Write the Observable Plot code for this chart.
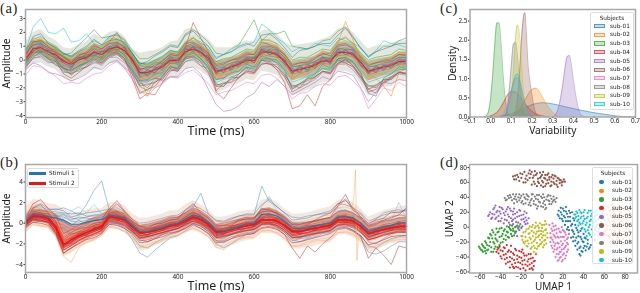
<!DOCTYPE html>
<html><head><meta charset="utf-8">
<script src="https://cdn.jsdelivr.net/npm/d3@7"></script>
<script src="https://cdn.jsdelivr.net/npm/@observablehq/plot@0.6"></script>
<style>
html,body{margin:0;padding:0;background:#fff}
#page{position:relative;width:640px;height:293px;overflow:hidden;font-family:"DejaVu Sans",sans-serif;color:#222}
#page svg{position:absolute;background:transparent;overflow:visible;filter:blur(.35px)}
.tag{position:absolute;font-family:"Liberation Serif",serif;font-size:14.5px;letter-spacing:.6px;line-height:16px;color:#222}
.legend{position:absolute;background:rgba(255,255,255,.82);border:1px solid #ddd;border-radius:2px;box-sizing:border-box;filter:blur(.25px)}
.legend .t{position:absolute;font-size:5.8px;line-height:7px;white-space:nowrap;color:#222}
.legend .s{position:absolute}
</style></head><body><div id="page"></div>
<script>
const timeMs = d3.range(0, 1001, 20);
const meanA = [0,.8,.9,.6,.35,-.1,-.3,0,.2,.55,.4,.8,.95,.7,0,-.9,-.9,-.7,-.5,0,-.05,.6,.8,.55,.1,-.8,-.7,-.5,-.3,0,-.05,.6,.55,.4,-.1,-.8,-.65,-.55,-.35,-.05,-.1,.55,.55,.4,-.2,-.8,-.65,-.5,-.4,-.1,-.1];
const bandHighA = [1.3,2.0,2.2,1.7,1.4,.9,.8,1.1,1.3,1.9,1.6,2.0,2.1,1.7,.8,.5,.6,.7,.9,1.3,1.4,2.2,2.3,1.9,1.5,.9,.9,.9,1.2,1.4,1.3,2.1,2.2,1.9,1.3,1.0,1.1,1.2,1.3,1.5,1.7,2.2,2.4,2.0,1.4,.8,1.0,1.1,1.2,1.4,1.4];
const bandLowA = [-.9,-.3,-.2,-.5,-.7,-1.3,-1.6,-1.3,-1,-.7,-.7,-.3,-.2,-.6,-1.4,-2.5,-2.4,-2.1,-1.8,-1.3,-1.3,-.7,-.5,-.8,-1.2,-2.4,-2.2,-1.9,-1.7,-1.4,-1.5,-.8,-.9,-1.1,-1.7,-2.6,-2.4,-2.2,-2.0,-1.6,-1.6,-.8,-.8,-1,-1.7,-2.6,-2.4,-2.0,-1.9,-1.5,-1.5];
const coreHighA = [.6,1.4,1.5,1.2,.95,.5,.3,.6,.8,1.15,1.0,1.4,1.55,1.3,.6,-.2,-.2,0,.2,.65,.6,1.25,1.45,1.2,.75,-.1,0,.15,.35,.65,.6,1.3,1.25,1.05,.6,-.1,.05,.1,.3,.6,.55,1.25,1.3,1.1,.5,-.1,.05,.15,.25,.55,.55];
const coreLowA = [-.6,.2,.3,0,-.25,-.7,-.9,-.6,-.4,-.05,-.2,.2,.35,.1,-.7,-1.6,-1.6,-1.4,-1.2,-.65,-.7,-.05,.15,-.1,-.55,-1.5,-1.4,-1.15,-.95,-.65,-.7,-.1,-.15,-.25,-.8,-1.5,-1.35,-1.25,-1.05,-.7,-.75,-.15,-.2,-.3,-.9,-1.5,-1.35,-1.15,-1.05,-.75,-.75];
const tracesA = [
["#17becf",[.6,2.4,3.0,2.0,1.9,2.3,1.3,1.4,1.9,1.2,1.0,1.6,1.5,1.3,.4,-.2,-.4,-.1,.2,.7,.5,1.2,1.6,1.2,1.0,.2,.4,.6,.9,1.1,1.3,2.6,2.2,1.6,1.2,.6,.9,.8,1.2,1.1,1.0,1.6,1.4,1.2,.9,.2,.7,1.4,1.2,1.1,.9]],
["#9467bd",[-.7,-.2,-.4,-.9,-1.0,-1.2,-1.5,-1.3,-1.0,-.5,-.7,-.2,0,-.5,-1.0,-1.7,-1.6,-1.3,-1.5,-1.2,-1.2,-.6,-.5,-1.0,-2.1,-3.2,-3.7,-3.6,-3.3,-2.7,-2.4,-1.6,-1.9,-1.4,-1.9,-2.5,-2.2,-1.9,-1.6,-1.2,-1.4,-.8,-.9,-1.1,-2.0,-3.0,-2.3,-1.6,-1.7,-1.4,-1.5]],
["#d62728",[.2,.6,1.1,.4,.1,-.6,-.7,-.4,-.2,.2,0,.5,.6,.1,-1.3,-2.8,-2.4,-2.5,-1.6,-.8,-.6,.9,2.7,1.6,.6,-2.3,-2.8,-2.0,-1.2,-.9,-1.0,-.3,-.2,-.7,-1.6,-3.5,-3.3,-2.5,-3.3,-1.9,-1.4,-.3,.1,-.4,-1.1,-2.1,-2.4,-1.7,-1.3,-.9,-1.0]],
["#2ca02c",[.7,1.3,1.4,1.2,.9,.4,.5,1.1,1.6,2.2,1.6,1.7,1.9,1.5,.7,.1,.1,.4,.7,1.1,1.0,1.9,2.2,1.8,1.3,.5,.4,.8,1.1,2.0,2.9,1.4,1.9,1.9,2.1,1.0,.9,.8,1.0,1.4,1.5,2.1,2.4,1.7,.8,.3,.6,1.0,1.0,1.4,1.6]],
["#e377c2",[-1.1,-.4,-.5,-.8,-1.2,-1.7,-1.6,-1.7,-1.3,-1,-.9,-.4,-.1,-.6,-1.4,-2.2,-2.6,-2,-1.7,-1.2,-1.3,-.9,-.7,-1.2,-1.7,-2.5,-2.3,-2.2,-1.9,-1.6,-1.7,-1.1,-1,-1.3,-1.9,-2.8,-2.4,-2.3,-1.9,-1.7,-1.8,-1.2,-1.1,-1.5,-2.1,-3.5,-2.8,-2,-2.2,-1.6,-1.9]],
["#ff7f0e",[.3,1.2,1.5,.9,.7,.2,-.2,.1,.5,.8,.7,1.2,1.2,.8,.1,-1.2,-2.6,-1.5,-.8,-.2,.1,.9,1.1,.9,.4,-1.0,-1.3,-.6,-.3,.2,.2,.7,1.0,.9,.1,-1.3,-1.0,-.8,-.4,.2,.1,1.2,2.8,1.4,.1,-1.0,-1.3,-1.9,-2.6,-.9,-.6]],
["#1f77b4",[-.2,.7,.6,.5,.0,-.6,-.8,-.4,-.1,.4,.1,.6,.7,.4,-.6,-1.5,-1.4,-1.0,-.9,-.2,-.3,.2,.5,.1,-.5,-1.4,-1.3,-.9,-.8,-.3,-.5,.3,.1,0,-.7,-2.1,-1.7,-1.3,-1,-.3,-.6,.1,.2,-.1,-.9,-2.4,-2.6,-1.3,-1.0,-.5,-.5]],
["#8c564b",[.4,1.1,1.2,.9,.7,.2,0,.3,.6,1.1,.8,1.3,2.0,1.1,.5,-.4,-.5,-.2,-.1,.5,.4,1.2,1.3,1.0,.5,-.3,-.2,0,.2,.5,.4,1.3,1.1,.9,.4,-.3,-.2,-.1,.2,.4,.5,1.1,1.2,.9,.3,-.3,-.2,0,.1,.4,.3]],
["#bcbd22",[-.3,.5,.7,.2,.1,-.4,-.6,-.2,0,.2,.1,.5,.6,.3,-.4,-1.2,-1.3,-1.1,-.8,-.3,-.4,.3,.4,.2,-.3,-1.2,-1.1,-.8,-.7,-.2,-.4,.2,.3,.1,-.5,-1.2,-1.1,-1,-.7,-.4,-.5,.2,.2,0,-.6,-1.2,-1,-.9,-.8,-.5,-.4]],
["#7f7f7f",[.5,1.0,1.2,.9,.6,.2,-.1,.3,.5,.9,.7,1.0,1.3,1.0,.2,-.6,-.6,-.4,-.2,.3,.3,.9,1.1,.8,.4,-.5,-.4,-.2,0,.3,.2,.9,.9,.7,.2,-.5,-.4,-.2,-.1,.2,.2,.8,.9,.7,.1,-.5,-.4,-.3,-.1,.2,.2]],
["#1f77b4",[.2,.6,1.2,.4,.5,0,-.5,.2,0,.7,.2,1,.7,.9,-.2,-.7,-1.1,-.5,-.7,.2,-.2,.8,.6,.8,-.1,-.6,-.9,-.3,-.5,.2,-.2,.8,.4,.6,-.3,-.6,-.9,-.3,-.6,.2,-.3,.8,.4,.6,-.4,-.6,-.9,-.3,-.6,.1,-.3]],
["#2ca02c",[-.1,.9,.7,.8,.2,0,-.5,.1,.1,.7,.2,.9,.8,.9,-.2,-.8,-1.2,-.6,-.3,-.2,.1,.4,1,.3,.3,-1,-.5,-.7,-.1,-.2,.2,.4,.8,.2,.1,-1,-.4,-.8,-.2,-.2,.1,.4,.8,.2,0,-1,-.4,-.7,-.2,-.3,.1]],
["#ff7f0e",[-.4,.4,1.0,.3,.4,-.3,-.1,-.2,.4,.3,.6,.5,1.1,.5,.2,-1.1,-.7,-.9,-.3,-.2,.1,.4,1,.3,.3,-1.1,-.5,-.7,-.1,-.2,.1,.3,.8,.2,.1,-1,-.5,-.7,-.2,-.2,.1,.3,.8,.2,0,-1,-.5,-.7,-.2,-.3,0]],
["#d62728",[.1,.9,.8,.7,.2,0,-.4,.2,.1,.6,.4,.7,1.1,.6,.1,-1,-.8,-.9,-.4,0,-.2,.8,.7,.7,-.1,-.7,-.8,-.4,-.4,.1,-.2,.8,.4,.5,-.2,-.7,-.8,-.4,-.5,0,-.2,.7,.4,.5,-.4,-.7,-.8,-.4,-.5,-.1,-.3]],
["#9467bd",[.3,1.1,.9,.4,.5,-.4,-.2,.1,.4,.5,.6,1.0,.9,.8,-.1,-.6,-1.1,-.6,-.3,.2,.1,.5,1,.6,.4,-.6,-.9,-.3,-.1,.1,.2,.5,.7,.6,.1,-.6,-.9,-.4,-.1,.1,.1,.4,.7,.5,0,-.6,-.9,-.4,-.2,0,.1]],
["#17becf",[.1,.7,1.3,.7,.1,.1,-.5,-.1,.4,.4,.5,.9,1.2,.5,.2,-1.3,-.7,-.8,-.6,.3,-.4,.9,.7,.9,-.4,-.8,-.5,-.8,-.2,-.3,.3,.8,.4,.7,-.4,-.8,-.4,-.9,-.2,-.3,.2,.8,.4,.7,-.5,-.8,-.4,-.8,-.3,-.4,.2]],
["#2ca02c",[.8,1.5,1.7,1.3,1,.5,.2,.6,.9,1.4,1.1,1.4,1.5,1.2,.5,-.2,-.3,0,.3,.7,.6,1.3,1.6,1.3,.8,-.1,.1,.2,.5,.8,.7,1.5,1.4,1.2,.7,0,.2,.2,.5,.8,.7,1.4,1.6,1.2,.5,0,.2,.3,.4,.8,.7]],
["#8c564b",[-.5,.1,.3,-.1,-.3,-.8,-1,-.7,-.5,-.2,-.2,.2,.4,0,-.8,-1.8,-1.8,-1.6,-1.3,-.7,-.8,-.1,.1,-.2,-.8,-1.8,-1.7,-1.4,-1.2,-.8,-.9,-.2,-.3,-.5,-1,-1.9,-1.7,-1.5,-1.2,-.8,-.9,-.2,-.2,-.5,-1.2,-1.9,-1.8,-1.5,-1.3,-.9,-.9]],
["#ff7f0e",[.5,1.6,1.4,1.0,.8,.1,-.1,.5,.6,1.2,.8,1.5,1.7,1.2,.2,-1.2,-1.5,-.9,-.3,.4,.3,1.2,1.6,1.1,.5,-1.1,-1.0,-.3,.2,.6,.4,1.4,1.5,1.1,.3,-1.1,-.8,-.4,.2,.7,.5,1.4,1.7,1.2,.2,-1.2,-.8,-.3,.1,.6,.5]],
["#2ca02c",[-.3,.4,.8,.2,0,-.7,-1.0,-.5,-.2,.3,.1,.6,.8,.3,-.8,-1.9,-2.2,-1.6,-1.1,-.5,-.6,.3,.6,.1,-.6,-1.9,-1.9,-1.3,-1,-.5,-.7,.1,.1,-.2,-.9,-2.0,-1.7,-1.4,-1.1,-.6,-.8,.1,.2,-.2,-1,-2.1,-1.8,-1.4,-1.2,-.7,-.7]],
["#1f77b4",[.6,1.7,1.9,1.2,.8,.5,.3,.7,1.0,1.5,1.1,1.7,1.8,1.4,.5,-.3,-.1,.3,.6,1.0,.9,1.8,2.1,1.5,1.0,.1,.4,.6,1.0,1.2,1.0,1.8,1.9,1.5,.9,.2,.7,.8,1.0,1.2,1.2,1.8,2.3,1.6,.9,.2,.6,.8,1.0,1.2,1.2]],
["#d62728",[-.2,.6,.5,.1,-.1,-1,-1.3,-.9,-.4,.1,-.2,.4,.6,.1,-1,-2.4,-2.1,-1.9,-1.2,-.4,-.7,.2,.3,-.1,-.9,-2.2,-1.7,-1.6,-1,-.6,-.8,0,-.1,-.5,-1.2,-2.3,-2,-1.7,-1.2,-.8,-1,-.2,0,-.4,-1.2,-2.3,-2.1,-1.6,-1.2,-.9,-1]],
["#9467bd",[.4,1.4,1.1,.9,.4,-.2,-.5,.2,.2,.9,.4,1.2,1.0,.9,-.1,-1.2,-1.0,-.9,-.3,.3,-.2,1.0,.9,.9,-.1,-1.0,-.5,-.7,.1,.3,-.2,.9,.6,.8,-.2,-1,-.4,-.7,-.1,.3,-.3,.9,.7,.8,-.4,-1,-.5,-.7,-.2,.2,-.2]],
["#8c564b",[-.6,.2,.6,.1,-.4,-.5,-1.1,-.6,-.5,0,-.3,.3,.5,-.1,-.7,-1.6,-2,-1.3,-1.4,-.6,-.8,.1,.2,-.4,-.6,-1.7,-1.9,-1.2,-1.3,-.7,-.9,0,-.3,-.3,-1.1,-1.8,-2,-1.3,-1.3,-.8,-.9,.0,-.2,-.5,-1.3,-1.8,-2,-1.4,-1.4,-.8,-1]],
["#e377c2",[.2,.9,1.1,.6,.6,-.1,-.4,.1,.4,.7,.5,.9,1.0,.8,.1,-.8,-.8,-.5,-.3,.2,.1,.8,.9,.7,.3,-.7,-.5,-.3,-.1,.2,.1,.7,.6,.6,.1,-.7,-.5,-.3,-.2,.1,.1,.7,.7,.6,0,-.7,-.5,-.4,-.2,.1,.1]],
["#7f7f7f",[-.2,.5,.7,.3,.2,-.4,-.6,-.2,.1,.4,.2,.7,.8,.4,-.3,-1.2,-1.1,-1,-.7,-.2,-.2,.4,.6,.3,-.1,-1,-.9,-.7,-.5,-.2,-.2,.4,.3,.2,-.3,-1,-.9,-.8,-.6,-.2,-.3,.3,.4,.2,-.4,-1,-.9,-.7,-.6,-.3,-.3]],
["#bcbd22",[.6,1.3,1.6,1.1,.8,.3,.1,.4,.8,1.2,.9,1.3,1.6,1.2,.3,-.5,-.4,-.1,.1,.6,.5,1.4,1.7,1.1,.6,-.2,-.1,.1,.3,.7,.6,1.3,1.3,1.0,.5,-.3,-.1,0,.2,.6,.5,1.3,1.4,1.1,.3,-.3,-.1,.1,.2,.6,.6]],
["#17becf",[-.4,.3,.5,0,-.2,-.7,-.8,-.6,-.2,.1,-.1,.4,.5,.1,-.7,-1.6,-1.5,-1.3,-1,-.5,-.5,.1,.3,-.1,-.6,-1.6,-1.4,-1.2,-1,-.5,-.6,0,0,-.2,-.7,-1.6,-1.4,-1.2,-1,-.6,-.7,0,.1,-.2,-.9,-1.6,-1.4,-1.2,-1,-.7,-.6]],
["#ff7f0e",[.1,.7,.9,.5,.1,-.3,-.9,-.3,0,.5,.3,.8,.7,.6,-.4,-1.4,-1.2,-1.2,-.6,-.1,-.2,.5,.6,.5,-.3,-1.4,-1,-1,-.5,-.1,-.3,.5,.3,.3,-.5,-1.4,-1,-1,-.6,-.2,-.4,.4,.3,.3,-.7,-1.4,-1,-1,-.6,-.3,-.4]],
["#2ca02c",[.4,1.1,1.3,.7,.6,.3,-.1,.2,.4,.8,.6,.9,1.2,1,.3,-.6,-.7,-.3,-.2,.2,.2,.8,1,.8,.3,-.6,-.5,-.2,-.1,.2,.2,.8,.8,.7,.2,-.5,-.4,-.3,-.1,.2,.1,.8,.8,.7,0,-.5,-.4,-.2,-.1,.2,.2]],
["#1f77b4",[0,.9,.6,.7,.1,-.2,-.6,.1,.3,.3,.6,.6,1.1,.5,.1,-1.1,-.7,-.9,-.3,-.1,.1,.5,1,.4,.3,-.9,-.6,-.6,-.2,-.1,.1,.5,.7,.3,0,-.9,-.5,-.7,-.2,-.1,0,.4,.7,.3,-.1,-.9,-.5,-.6,-.3,-.2,0]],
["#d62728",[.3,1.3,1.4,1.0,.5,.2,-.2,.4,.5,1.0,.8,1.2,1.3,.9,.1,-.7,-.5,-.5,0,.4,.3,1.0,1.2,.9,.5,-.4,-.3,0,.1,.4,.4,1.0,1.0,.8,.4,-.4,-.2,-.2,.1,.5,.3,1.0,1.1,.8,.2,-.4,-.2,-.1,0,.4,.4]],
["#9467bd",[-.5,.2,.2,-.2,-.1,-.9,-.9,-.8,-.5,-.1,-.4,.2,.2,-.2,-.9,-1.9,-1.7,-1.6,-1.2,-.7,-.8,-.1,0,-.4,-1,-1.9,-1.6,-1.6,-1.3,-.8,-.9,-.3,-.2,-.7,-1.2,-2.1,-1.8,-1.7,-1.4,-.9,-1,-.3,-.3,-.7,-1.4,-2.1,-1.9,-1.6,-1.4,-1,-1.1]],
["#8c564b",[.2,.8,1.0,.8,.4,0,-.2,.2,.3,.6,.6,.8,1.0,.7,.1,-.9,-1.0,-.6,-.4,.1,0,.7,.9,.6,.2,-.9,-.7,-.4,-.2,.1,.1,.7,.6,.5,0,-.9,-.7,-.5,-.3,.1,0,.6,.6,.5,-.1,-.9,-.7,-.4,-.3,0,0]]
];

const meanB1 = [.2,.9,.85,.65,.5,.3,-.1,-.1,.1,.25,.35,.75,.7,.5,-.2,-.8,-.8,-.6,-.4,-.15,0,.4,.8,.6,.1,-.7,-.75,-.55,-.3,-.05,0,.85,.9,.7,.2,-.45,-.5,-.45,-.25,-.1,0,.6,.65,.5,0,-.8,-.6,-.35,-.2,0,.05];
const meanB2 = [.1,.7,.65,.45,-.4,-2.1,-1.6,-1.2,-.9,-.6,-.3,.65,.55,.3,-.3,-.95,-.85,-.7,-.5,-.25,-.1,.2,.6,.35,-.1,-.85,-.8,-.6,-.4,-.25,-.1,.3,.35,.2,-.2,-.8,-.8,-.65,-.5,-.35,-.2,.3,.35,.2,-.3,-1.0,-.8,-.6,-.45,-.3,-.3];
const bandHighB = [1.5,2.3,2.2,1.9,1.8,1.4,1.0,1.0,1.2,1.4,1.4,2.0,2.0,1.7,.9,.5,.5,.7,.9,1.2,1.2,1.8,2.2,1.8,1.3,.6,.6,.8,1.1,1.2,1.3,2.2,2.5,2.0,1.4,.9,.9,1.0,1.2,1.4,1.6,2.2,2.3,2.0,1.4,.6,.9,1.2,1.4,1.6,1.7];
const bandLowB = [-1.0,-.3,-.4,-.5,-1.4,-3.3,-2.9,-2.4,-2,-1.8,-1.3,-.5,-.6,-.9,-1.6,-2.7,-2.6,-2.2,-1.9,-1.6,-1.4,-1,-.7,-1,-1.4,-2.5,-2.5,-2.2,-1.9,-1.7,-1.6,-1,-1,-1.1,-1.6,-2.5,-2.5,-2.4,-2.2,-2,-1.9,-1.2,-1.1,-1.4,-1.9,-2.8,-2.7,-2.3,-2.0,-1.9,-1.8];
const coreHighB = [.7,1.4,1.35,1.15,.9,.2,-.2,-.2,.2,.55,.75,1.35,1.3,1.0,.3,-.25,-.2,0,.2,.45,.55,1.0,1.4,1.15,.6,-.15,-.15,.1,.35,.55,.55,1.35,1.45,1.2,.7,.05,0,.1,.25,.4,.55,1.1,1.25,1.0,.55,-.2,-.05,.2,.35,.55,.6];
const coreLowB = [-.45,.15,.1,-.15,-1.05,-2.7,-2.3,-1.85,-1.5,-1.2,-.9,.05,-.05,-.3,-.9,-1.6,-1.55,-1.35,-1.15,-.9,-.7,-.4,-.05,-.3,-.75,-1.55,-1.5,-1.25,-1.05,-.9,-.75,-.3,-.25,-.45,-.9,-1.5,-1.5,-1.3,-1.15,-1,-.9,-.4,-.35,-.5,-1,-1.7,-1.5,-1.25,-1.1,-.95,-1];
const tracesBlue = [
["#1f77b4",[.7,1.5,1.6,1.3,1.4,1.2,.6,.8,1.8,3.2,4.1,1.3,1.2,.9,.1,-.4,-.4,-.1,.2,.5,.6,1.1,1.6,2.9,.9,.2,.1,.4,.7,.8,.8,3.6,2.1,1.6,1.0,.3,.4,.5,.8,.9,1.0,1.6,2.4,1.2,.9,-.1,.4,1.0,1.2,1.3,1.2]],
["#1f77b4",[-.4,.3,.2,.1,-.5,-.4,-1,-1,-.7,-.6,-.5,0,-.1,-.5,-1.6,-2.9,-3.3,-2.6,-2,-1.4,-1.2,-.7,-.2,-.5,-1,-2,-2.4,-2,-1.5,-1.1,-1,-.1,.1,-.3,-.9,-1.7,-1.5,-1.4,-1.1,-.9,-.8,-.2,-.1,-.5,-1.4,-2.8,-3,-2.7,-2.2,-1.8,-1.8]],
["#1f77b4",[.5,1.3,1.2,1.1,.9,.9,.5,.4,.6,.8,.9,1.2,1.1,.9,.2,-.3,-.3,-.1,.1,.3,.4,.9,1.3,1,.6,-.2,-.2,0,.3,.4,.5,1.4,1.5,1.2,.7,.1,.1,.1,.3,.4,.5,1.1,1.2,1,.5,-.3,0,.2,.3,.5,.5]],
["#1f77b4",[-.1,.5,.5,.3,.1,-.2,-.6,-.6,-.4,-.3,-.2,.3,.3,.1,-.7,-1.3,-1.3,-1.1,-.9,-.6,-.5,-.1,.3,.1,-.4,-1.2,-1.2,-1.1,-.8,-.5,-.5,.3,.4,.2,-.3,-1,-1,-1,-.8,-.6,-.5,.1,.1,0,-.5,-1.3,-1.1,-.9,-.7,-.5,-.5]],
["#1f77b4",[.3,1,.9,.9,.7,.6,.2,.1,.3,.5,.6,1,.9,.6,.1,-.6,-.9,-.3,-.1,.1,.3,.7,1.1,.8,.2,-.4,-.5,-.3,-.1,.2,.2,1.1,1.2,1,.4,-.1,-.3,-.2,0,.2,.2,.9,.9,.8,.3,-.6,-.4,-.1,0,.2,.3]],
["#1f77b4",[0,.7,1.1,.4,.6,.1,-.2,.3,-.1,.3,.1,.9,.5,.7,-.4,-.5,-1,-.4,-.6,0,-.1,.6,.6,.8,-.1,-.5,-1,-.3,-.5,.1,-.2,1,.7,.9,0,-.2,-.7,-.2,-.4,.1,-.2,.8,.4,.7,-.2,-.6,-.8,-.1,-.4,.2,-.2]],
["#1f77b4",[.6,1.1,1.3,1.2,1.1,1.0,.9,1.0,.7,.7,.8,1.1,1.0,.7,0,-.5,-.6,-.3,0,.3,.4,.8,1.0,.9,.4,-.3,-.4,-.1,.2,.4,.4,1.3,1.4,1.0,.6,0,-.1,0,.2,.4,.5,1.2,1.3,1,.5,-.4,-.1,.3,.5,.8,.7]],
["#1f77b4",[.2,.8,.7,.6,.7,.8,.3,.6,.5,.4,.6,.8,.8,.4,-.3,-.9,-1.2,-.7,-.3,0,.1,.4,.9,.4,0,-1,-1.1,-.7,-.3,0,.1,.8,1,.6,.1,-.7,-.8,-.6,-.3,-.1,.1,.7,.7,.4,-.1,-1.2,-1,-.6,-.2,.1,.1]],
["#1f77b4",[-.2,.6,.7,.4,.3,.2,-.3,-.4,-.2,0,.1,.5,.5,.2,-.6,-1.6,-1.8,-1.5,-1.1,-.7,-.5,0,.5,.2,-.4,-1.4,-1.5,-1.1,-.8,-.4,-.4,.5,.6,.3,-.3,-1.2,-1.3,-1.3,-1,-.6,-.5,.3,.3,.1,-.7,-1.8,-2,-1.5,-1,-.7,-.7]],
["#1f77b4",[.9,1.6,1.9,1.4,1.3,1.5,1.2,.8,1.0,1.1,1.2,1.4,1.5,1.1,.4,0,.1,.3,.5,.7,.8,1.3,1.7,1.4,.9,.3,.2,.5,.7,.9,.9,1.8,2.3,1.6,1.0,.6,.5,.7,.8,1.0,1.2,1.9,1.8,1.5,1.0,.2,.5,.8,1.0,1.1,1.2]],
["#1f77b4",[-.5,.1,.2,.2,-.2,-.6,-1.2,-.8,-.9,-.6,-.8,-.1,0,-.4,-1.2,-2.2,-2.4,-1.9,-1.5,-1.1,-.9,-.5,0,-.3,-.8,-1.7,-1.9,-1.5,-1.1,-.9,-.8,-.1,0,-.4,-.9,-1.6,-1.8,-1.5,-1.3,-1,-.9,-.4,-.3,-.7,-1.2,-2.2,-2.4,-1.9,-1.5,-1.3,-1.2]],
["#6baed6",[.3,.9,1.5,.7,.8,.4,1.2,1.6,1.0,1.8,.9,.9,.6,.7,-.1,-.5,-.9,-.5,-.1,.2,.2,.8,1.1,.6,.5,-.5,-.4,-.5,-.1,.2,.3,1.6,2.6,1.2,.6,.1,-.2,-.1,.2,.2,.3,1.5,1.1,.9,.4,-.5,-.2,.5,.3,2.0,.4]]
];
const tracesRed = [
["#fdae6b",[-.6,.1,-.2,-.3,-1.2,-3.2,-3.8,-2.4,-1.8,-1.5,-1.1,-.3,-.4,-.8,-1.4,-2.4,-2.3,-2,-1.7,-1.3,-1.2,-.8,-.4,-.8,-1.3,-2.3,-2.6,-2,-1.6,-1.4,-1.4,-.8,-.7,-1,-1.5,-2.3,-2.2,-2,-1.7,-1.7,-1.6,-.9,-.9,-1.1,-1.7,-2.4,-2.2,-1.9,-1.7,-1.6,-1.6]],
["#fdae6b",[.6,1.6,1.4,1.2,.3,-1.4,-.9,-.7,-.3,.1,.2,1.3,1.3,1.0,.1,-.6,-.4,-.2,0,.2,.3,.9,1.5,1.0,.5,-.3,-.4,-.1,.1,.3,.3,1,1,.8,.3,-.4,-.3,-.1,.1,.2,.4,.9,1.1,.8,.3,-.5,-.3,0,.1,.3,.4]],
["#fd8d3c",[-.2,.3,.6,0,-.8,-2.6,-2.5,-1.7,-1.5,-.9,-1,.4,.4,-.2,-.9,-1.4,-1.8,-1,-1.1,-.5,-.7,-.3,.5,-.2,-.6,-1.5,-1.6,-.9,-1.1,-.5,-.7,-.2,.4,-.2,-.7,-1.5,-1.5,-1,-1.2,-.6,-.8,-.2,.4,-.2,-.9,-1.7,-1.5,-1,-1.2,-.5,-.9]],
["#fdae6b",[.9,1.9,1.8,1.5,.7,-1,-.5,-.3,.1,.4,.6,1.6,1.7,1.3,.5,-.2,0,.2,.4,.7,.7,1.3,1.8,1.4,.9,0,.1,.3,.6,.7,.8,1.4,1.5,1.2,.8,0,.1,.3,.5,.7,.8,1.5,1.6,1.3,.8,-.1,.2,.5,.7,.8,.9]],
["#fdae6b",[-.8,-.1,-.3,-.4,-1.3,-3,-2.7,-2.2,-1.9,-1.6,-1.2,-.4,-.5,-.8,-1.3,-2.2,-2.1,-1.8,-1.6,-1.3,-1.1,-.8,-.5,-.8,-1.3,-2.1,-2.2,-1.8,-1.5,-1.3,-1.2,-.7,-.7,-.9,-1.4,-2.2,-2.1,-1.8,-1.6,-1.5,-1.4,-.9,-.8,-1,-1.5,-2.3,-2.2,-1.8,-1.6,-1.4,-1.4]],
["#fd8d3c",[.4,1.3,1.1,.9,.1,-1.6,-1.2,-.8,-.5,-.1,0,1.1,1.0,.7,0,-.7,-.7,-.4,-.2,0,.2,.7,1.1,.8,.2,-.6,-.6,-.3,-.1,.1,.2,.8,.9,.6,.1,-.6,-.6,-.3,-.1,0,.2,.7,.9,.6,.1,-.7,-.5,-.2,-.1,.1,.2]],
["#c9303a",[-.2,.4,.3,.1,-1,-2.9,-2.4,-1.9,-1.5,-1.2,-.9,.1,0,-.3,-.9,-1.7,-1.6,-1.4,-1.1,-.9,-.8,-.4,0,-.3,-.8,-1.7,-1.7,-1.3,-1.2,-1,-.9,-.4,-.3,-.5,-1.1,-2.4,-3.4,-2.2,-2.8,-2,-1.4,-.6,-.5,-.8,-1.3,-3.4,-2.4,-3.1,-4,-2.2,-2.4]],
["#c9303a",[.5,1.9,2.3,1.4,.7,-1.0,-.6,-.2,0,.3,.4,1.4,2.2,1.2,.4,-.2,-.1,.1,.3,.6,.6,1.0,1.5,1.2,.7,-.1,0,.2,.4,.6,.6,1.1,1.2,1.0,.5,-.1,-.1,.1,.2,.4,.6,1.7,2.8,1.3,.6,-.2,.1,.3,.6,.8,1.5]],
["#c9303a",[.2,1.5,1.8,1,.2,-1.4,-.9,-.5,-.4,0,.1,1.2,1.9,1.1,.2,-.3,-.5,-.1,0,.3,.4,1.3,1.9,1,.5,-.3,-.2,-.2,.3,.4,.4,1.4,1.3,.9,.3,-.3,-.4,-.1,.3,.7,1.0,1.9,2.2,1.5,.6,.0,.3,.5,1.1,1.0,1.4]],
["#b2182b",[.1,.9,.8,.6,-.2,-1.9,-1.4,-1.1,-.7,-.4,-.2,.8,.8,.5,-.1,-.8,-.7,-.5,-.3,-.1,0,.4,.8,.5,0,-.7,-.6,-.4,-.2,-.1,0,.5,.6,.4,0,-.7,-.6,-.5,-.3,-.2,0,.5,.6,.4,-.1,-.8,-.6,-.4,-.3,-.1,-.1]],
["#b2182b",[-.1,.5,.4,.3,-.6,-2.4,-1.8,-1.4,-1.1,-.8,-.5,.5,.3,.1,-.6,-1.2,-1.1,-.9,-.7,-.4,-.3,0,.4,.1,-.3,-1.1,-1,-.8,-.6,-.5,-.3,.1,.1,0,-.5,-1.1,-1,-.9,-.7,-.6,-.4,.1,.1,0,-.6,-1.3,-1.1,-.9,-.7,-.6,-.6]],
["#d7301f",[.4,1,1,.7,.1,-1.6,-1.1,-.8,-.5,-.2,0,.9,.9,.6,0,-.6,-.5,-.4,-.2,0,.2,.6,1,.7,.2,-.6,-.5,-.3,-.1,0,.2,.7,.7,.5,.1,-.5,-.5,-.3,-.2,-.1,.1,.7,.7,.5,0,-.6,-.5,-.3,-.2,0,0]],
["#d7301f",[-.3,.3,.2,.1,-.9,-2.3,-2.1,-1.6,-1.3,-1.1,-.7,.3,.2,-.1,-.7,-1.5,-1.3,-1.1,-.9,-.7,-.5,-.2,.2,0,-.5,-1.3,-1.2,-1,-.8,-.7,-.6,0,0,-.2,-.7,-1.4,-1.3,-1.2,-1,-.8,-.7,-.1,0,-.2,-.8,-1.6,-1.4,-1.1,-.9,-.8,-.8]],
["#b2182b",[0,.8,.5,.7,-.6,-2,-1.9,-1,-1.2,-.4,-.6,.9,.3,.6,-.6,-.8,-1.2,-.5,-.7,-.1,-.3,.4,.5,.6,-.3,-.7,-1.1,-.4,-.6,-.1,-.3,.5,.2,.5,-.4,-.6,-1.1,-.5,-.7,-.2,-.4,.5,.1,.5,-.5,-.8,-1.1,-.4,-.7,-.1,-.5]],
["#d7301f",[.3,1.2,1.0,.9,-.1,-1.7,-1.4,-.9,-.7,-.2,-.1,1.0,1.1,.7,.1,-.7,-.6,-.4,-.2,.1,.1,.6,1.1,.7,.1,-.5,-.6,-.3,-.1,.1,.1,.6,.8,.5,.1,-.5,-.6,-.3,-.2,-.1,.1,.6,.8,.5,.1,-.7,-.5,-.3,-.2,.1,0]],
["#b2182b",[-.2,.4,.3,.1,-.8,-2.6,-2.2,-1.7,-1.3,-1,-.7,.2,.1,-.2,-.8,-1.4,-1.3,-1.1,-.9,-.7,-.5,-.1,.2,-.1,-.6,-1.4,-1.3,-1.1,-.9,-.7,-.6,-.1,-.1,-.2,-.7,-1.4,-1.4,-1.1,-1,-.9,-.7,-.2,-.1,-.3,-.9,-1.6,-1.4,-1.2,-1,-.9,-.9]],
["#e31a1c",[.2,.7,.8,.5,-.3,-2,-1.7,-1.3,-.9,-.5,-.3,.7,.7,.4,-.2,-.9,-.9,-.6,-.4,-.2,0,.3,.7,.3,-.1,-.8,-.7,-.5,-.3,-.3,0,.3,.4,.3,-.1,-.7,-.7,-.6,-.4,-.3,-.1,.4,.5,.3,-.2,-.9,-.7,-.5,-.4,-.3,-.2]],
["#e31a1c",[0,.6,.5,.3,-.5,-2.2,-1.8,-1.3,-1,-.7,-.4,.5,.5,.2,-.4,-1,-.9,-.8,-.6,-.3,-.2,.1,.5,.2,-.2,-1,-.9,-.7,-.5,-.3,-.2,.2,.3,.1,-.3,-.9,-.9,-.7,-.6,-.4,-.3,.2,.2,.1,-.4,-1.1,-.9,-.7,-.5,-.4,-.4]],
["#d7301f",[.1,.9,.7,.5,-.3,-2.3,-1.5,-1.3,-.8,-.7,-.2,.8,.6,.4,-.4,-1.1,-.8,-.8,-.4,-.3,0,.3,.7,.4,-.2,-1,-.7,-.7,-.3,-.3,0,.4,.3,.3,-.3,-.9,-.7,-.7,-.4,-.4,-.1,.4,.3,.3,-.4,-1.1,-.7,-.7,-.4,-.4,-.2]],
["#fc4e2a",[.3,1.0,.9,.7,0,-1.8,-1.3,-1.0,-.6,-.3,-.1,.9,.8,.5,0,-.7,-.6,-.5,-.3,0,.1,.5,.9,.6,.1,-.6,-.6,-.4,-.2,0,.1,.5,.6,.4,0,-.6,-.6,-.4,-.3,-.1,0,.5,.6,.4,-.1,-.8,-.6,-.4,-.2,0,0]],
["#b2182b",[-.4,.1,0,-.2,-1.1,-2.9,-2.4,-2,-1.6,-1.4,-1,-.1,-.2,-.5,-1,-1.9,-1.8,-1.5,-1.3,-1,-.8,-.5,-.1,-.5,-1,-1.9,-1.8,-1.5,-1.3,-1.1,-1,-.5,-.4,-.6,-1.1,-1.9,-1.8,-1.6,-1.4,-1.2,-1,-.5,-.4,-.7,-1.2,-2.1,-1.9,-1.6,-1.3,-1.2,-1.2]],
["#e31a1c",[-.1,.5,.6,.2,-.6,-2,-2,-1.4,-1.1,-.8,-.5,.4,.4,0,-.5,-1.2,-1.1,-.9,-.7,-.5,-.3,.1,.4,0,-.4,-1.2,-1,-.8,-.6,-.5,-.3,.1,.1,0,-.5,-1.2,-1.1,-.9,-.7,-.5,-.4,.1,.1,-.1,-.6,-1.4,-1.1,-.8,-.6,-.5,-.6]]
];
const spikeTimes = [840,855,862,866,870,876,890];
const spikeValues = [.6,1.0,2.6,5.2,-3.6,.2,.4];

const axisTicks = [0,200,400,600,800,1000];
const subjects = ["sub-01","sub-02","sub-03","sub-04","sub-05","sub-06","sub-07","sub-08","sub-09","sub-10"];
const colours = ["#1f77b4","#ff7f0e","#2ca02c","#d62728","#9467bd","#8c564b","#e377c2","#7f7f7f","#bcbd22","#17becf"];

const densX01=[0,.05,.1,.15,.2,.25,.3,.35,.4,.45,.5,.55,.6,.65,.7], densY01=[0,.02,.08,.2,.32,.37,.34,.28,.22,.16,.11,.07,.03,.01,0];
const densX02=[.08,.1,.12,.14,.16,.18,.2,.22,.24,.26,.28,.3,.32,.34], densY02=[0,.02,.08,.2,.38,.58,.72,.75,.62,.42,.25,.12,.04,0];
const densX03=[-.03,-.02,-.01,0,.01,.02,.03,.04,.05,.06,.07,.08,.09,.1], densY03=[0,.04,.15,.5,1.1,1.9,2.45,2.45,1.9,1.1,.5,.15,.04,0];
const densX04=[-.02,0,.02,.04,.06,.08,.1,.12,.14,.16,.18,.2,.22,.24,.26,.28], densY04=[0,.03,.08,.18,.36,.56,.66,.65,.54,.4,.26,.15,.08,.04,.02,0];
const densX05=[.3,.32,.34,.35,.36,.37,.38,.39,.4,.41,.42,.44,.46], densY05=[0,.12,.55,.9,1.3,1.57,1.6,1.35,.95,.6,.3,.04,0];
const densX06=[.1,.12,.13,.14,.15,.16,.165,.17,.18,.19,.2,.21,.22,.24], densY06=[0,.15,.5,1.2,2.1,2.65,2.72,2.4,1.4,.9,.55,.25,.08,0];
const densX07=[.04,.06,.08,.1,.11,.12,.13,.14,.15,.16,.18,.2,.22], densY07=[0,.08,.3,.7,.9,1.0,1.02,.92,.72,.5,.18,.05,0];
const densX08=[.05,.07,.08,.09,.1,.11,.12,.13,.14,.15,.16,.18,.2], densY08=[0,.05,.2,.7,1.35,1.9,1.95,1.55,.9,.45,.15,.03,0];
const densX09=[.08,.09,.1,.11,.12,.13,.14,.15,.16,.17,.18,.2], densY09=[0,.08,.45,1.2,2.05,2.4,2.1,1.3,.55,.18,.04,0];
const densX10=[.05,.07,.09,.1,.11,.12,.13,.14,.15,.16,.18,.2,.22], densY10=[0,.06,.35,.65,.9,1.08,1.12,.98,.72,.48,.15,.03,0];
const densX=[densX01,densX02,densX03,densX04,densX05,densX06,densX07,densX08,densX09,densX10];
const densY=[densY01,densY02,densY03,densY04,densY05,densY06,densY07,densY08,densY09,densY10];

const umap01=[[15,17],[16,22],[17,12],[18,26],[19,17],[20,8],[21,22],[22,13],[22,3],[23,27],[24,18],[24,-3],[25,8],[26,22],[26,-9],[27,14],[28,2],[28,-14],[29,-4],[29,20],[30,-19],[31,9],[31,-9],[32,-25],[33,-1],[33,-14],[34,-30],[35,-7],[35,-20],[36,-36],[37,-13],[37,-26],[38,-2],[39,-19],[39,-33],[40,-9],[41,-25],[42,-15],[42,-31],[44,-22],[45,-29],[47,-24],[30,12],[37,-38],[16,15],[18,20],[19,11],[20,25],[21,15],[23,8],[23,21],[25,14],[25,0],[26,-4],[27,8],[27,19],[29,4],[30,-6],[30,-13],[32,3],[32,-18],[34,-4],[34,-22],[35,-12],[36,-28],[37,-5],[38,-16],[38,-32],[40,-20],[40,-28],[41,-14],[43,-26],[44,-17],[46,-27]];
const umap02=[[59,22],[60,10],[61,-5],[62,28],[63,16],[63,2],[64,-12],[65,22],[65,7],[66,-3],[67,30],[67,14],[68,-17],[69,0],[69,22],[70,8],[71,-9],[71,27],[72,15],[73,3],[73,-14],[74,21],[75,10],[75,-4],[76,26],[77,-11],[77,16],[78,4],[79,22],[79,-6],[80,10],[81,-2],[82,18],[82,-12],[83,5],[84,13],[85,-6],[62,-10],[66,-19],[58,16],[60,25],[61,3],[62,-3],[64,10],[64,26],[66,16],[67,-9],[68,8],[68,25],[70,-5],[70,18],[71,2],[72,-17],[72,24],[74,-9],[74,13],[76,1],[76,20],[77,8],[78,-16],[78,12],[80,26],[80,-11],[81,6],[82,0],[83,22],[84,-3],[60,-9],[65,-14]];
const umap03=[[-61,-26],[-59,-30],[-58,-23],[-57,-33],[-56,-27],[-55,-19],[-54,-35],[-53,-24],[-52,-14],[-52,-30],[-50,-20],[-50,-9],[-49,-27],[-48,-4],[-48,-15],[-47,-33],[-46,-22],[-45,-10],[-44,-2],[-44,-17],[-43,-27],[-42,-6],[-41,-13],[-40,-21],[-39,-1],[-38,-9],[-37,-16],[-36,-3],[-35,-11],[-34,1],[-33,-7],[-32,-14],[-31,-2],[-30,-9],[-29,2],[-28,-5],[-27,-11],[-26,0],[-25,-6],[-23,-1],[-22,1],[-20,-1],[-46,-29],[-55,-28],[-60,-28],[-58,-31],[-57,-25],[-55,-32],[-54,-21],[-53,-31],[-51,-25],[-51,-15],[-49,-11],[-49,-33],[-47,-20],[-47,-7],[-45,-26],[-45,-15],[-43,-7],[-43,-19],[-41,-2],[-41,-24],[-39,-12],[-38,-20],[-37,-5],[-35,-17],[-34,-6],[-33,-13],[-32,0],[-30,-4],[-29,-12],[-28,-2],[-26,-6],[-24,2]];
const umap04=[[-43,-30],[-42,-35],[-41,-26],[-40,-39],[-38,-32],[-37,-27],[-36,-43],[-35,-36],[-34,-24],[-33,-47],[-32,-31],[-31,-40],[-30,-25],[-29,-50],[-28,-35],[-27,-44],[-26,-29],[-25,-53],[-24,-38],[-23,-47],[-22,-32],[-21,-56],[-20,-41],[-19,-50],[-18,-35],[-17,-44],[-16,-58],[-15,-38],[-14,-52],[-13,-43],[-12,-56],[-11,-36],[-10,-48],[-9,-41],[-8,-52],[-7,-45],[-9,-57],[-6,-36],[-27,-55],[-35,-49],[-31,-54],[-19,-30],[-44,-33],[-42,-28],[-40,-31],[-39,-42],[-37,-37],[-36,-28],[-34,-41],[-33,-33],[-31,-46],[-30,-33],[-29,-42],[-28,-53],[-27,-37],[-26,-48],[-25,-31],[-24,-43],[-23,-54],[-22,-40],[-21,-48],[-20,-33],[-19,-45],[-18,-55],[-17,-38],[-16,-50],[-14,-46],[-13,-36],[-12,-50],[-11,-42],[-10,-55],[-8,-46]];
const umap05=[[-52,15],[-50,20],[-49,11],[-47,24],[-46,17],[-45,29],[-44,13],[-43,22],[-42,8],[-41,27],[-40,18],[-39,12],[-38,24],[-37,5],[-36,16],[-35,21],[-34,9],[-33,27],[-32,14],[-31,3],[-30,22],[-29,8],[-28,17],[-27,25],[-26,12],[-25,1],[-24,20],[-23,6],[-22,15],[-21,22],[-20,10],[-19,1],[-18,17],[-17,7],[-16,13],[-15,19],[-14,5],[-13,12],[-22,-4],[-24,-12],[-26,-8],[-28,4],[-51,17],[-48,18],[-48,13],[-46,26],[-45,11],[-44,20],[-42,15],[-41,21],[-40,8],[-39,26],[-37,19],[-36,10],[-34,24],[-33,17],[-32,6],[-31,25],[-30,12],[-28,21],[-28,10],[-26,18],[-25,7],[-24,14],[-22,23],[-21,4],[-20,16],[-18,11],[-17,21],[-16,4],[-15,9],[-23,-2]];
const umap06=[[-28,68],[-25,64],[-24,70],[-21,72],[-20,66],[-18,60],[-17,74],[-15,69],[-14,63],[-12,76],[-11,71],[-10,57],[-9,66],[-8,61],[-7,75],[-6,70],[-5,55],[-4,65],[-3,59],[-2,73],[-1,68],[0,62],[1,74],[1,54],[2,66],[3,70],[4,58],[5,63],[6,72],[7,67],[8,55],[9,61],[10,70],[11,65],[12,58],[13,68],[14,62],[15,54],[16,65],[17,59],[18,63],[19,56],[20,61],[21,64],[-16,65],[-23,67],[-27,64],[-26,69],[-22,62],[-19,71],[-16,60],[-13,72],[-12,66],[-10,74],[-8,69],[-7,58],[-5,72],[-4,61],[-2,66],[-1,56],[0,70],[1,60],[3,55],[3,65],[5,70],[6,59],[7,64],[9,67],[9,56],[11,60],[12,69],[14,57],[15,66],[17,63],[19,60],[22,61]];
const umap07=[[7,3],[8,-8],[8,-20],[9,-2],[9,-14],[10,-28],[10,5],[11,-10],[11,-33],[11,-20],[12,-4],[12,-25],[13,-40],[13,-14],[13,2],[14,-30],[14,-8],[15,-21],[15,-45],[16,-36],[16,-2],[16,-14],[17,-27],[17,-41],[18,-7],[18,-19],[18,-33],[19,0],[19,-24],[19,-46],[20,-13],[20,-37],[21,-5],[21,-29],[22,-18],[22,-42],[23,-10],[23,-25],[24,-33],[24,-16],[25,-23],[26,-9],[8,-14],[9,-25],[10,-5],[10,-17],[11,1],[12,-30],[12,-12],[13,-22],[14,-3],[14,-36],[15,-13],[15,-28],[16,-22],[16,-44],[17,-6],[17,-33],[18,-13],[18,-40],[19,-30],[20,-4],[20,-22],[20,-44],[21,-13],[21,-35],[22,-27],[22,-7],[23,-38],[24,-21],[25,-14],[25,-30]];
const umap08=[[-36,39],[-34,37],[-33,42],[-30,40],[-29,36],[-28,44],[-26,41],[-25,37],[-24,34],[-22,44],[-21,39],[-20,42],[-19,35],[-17,40],[-16,32],[-15,44],[-14,37],[-13,41],[-12,33],[-11,29],[-10,38],[-9,44],[-8,35],[-7,41],[-6,30],[-5,25],[-4,37],[-3,43],[-2,33],[-1,28],[0,39],[1,44],[2,35],[3,30],[3,24],[5,41],[6,36],[7,31],[8,42],[9,38],[10,34],[11,41],[12,37],[14,39],[-27,32],[-18,31],[-35,36],[-32,39],[-31,43],[-27,38],[-25,44],[-23,40],[-22,36],[-20,33],[-18,44],[-16,38],[-14,42],[-13,30],[-11,36],[-10,44],[-8,31],[-6,38],[-5,43],[-4,28],[-3,34],[-1,41],[1,32],[1,27],[2,40],[4,37],[4,26],[6,43],[7,35],[9,31],[11,36],[13,34]];
const umap09=[[-20,-12],[-19,-17],[-18,-7],[-17,-22],[-16,-13],[-15,-3],[-14,-26],[-14,-18],[-13,-9],[-12,1],[-12,-14],[-11,-29],[-10,-21],[-10,-5],[-9,3],[-9,-12],[-8,-25],[-7,-17],[-7,-1],[-6,6],[-6,-9],[-5,-29],[-5,-21],[-4,-13],[-4,2],[-3,-5],[-3,-25],[-2,-17],[-2,5],[-1,-9],[-1,-22],[0,-1],[0,-14],[1,-27],[1,-6],[2,-18],[2,3],[3,-11],[3,8],[4,-3],[4,-22],[5,-14],[-8,-33],[-6,-35],[-19,-12],[-18,-20],[-16,-6],[-16,-19],[-15,-25],[-13,-2],[-13,-22],[-12,-8],[-11,-16],[-10,-27],[-10,0],[-8,-7],[-8,-19],[-7,-28],[-6,-14],[-6,1],[-5,-6],[-4,-26],[-3,-11],[-3,-1],[-2,-23],[-1,-5],[0,3],[0,-20],[1,-11],[2,-24],[3,-4],[3,-17],[4,4],[5,-8]];
const umap10=[[31,17],[32,12],[33,21],[34,8],[35,15],[36,23],[37,4],[37,12],[38,19],[39,-1],[40,8],[40,15],[41,23],[42,-6],[42,3],[43,12],[44,19],[45,-8],[45,0],[46,8],[47,15],[47,22],[48,-13],[48,-3],[49,5],[50,12],[50,20],[51,-10],[52,0],[52,8],[53,16],[54,-6],[55,4],[55,13],[56,22],[51,-17],[58,11],[58,18],[43,-12],[35,2],[32,17],[33,14],[34,19],[35,10],[36,6],[37,20],[38,14],[39,5],[40,20],[41,11],[41,-3],[43,6],[44,-4],[44,14],[45,22],[46,3],[46,-10],[47,10],[48,18],[49,-7],[49,1],[50,7],[51,15],[51,-3],[52,22],[53,3],[54,10],[55,-2],[56,17],[57,7]];
const umapAll=[umap01,umap02,umap03,umap04,umap05,umap06,umap07,umap08,umap09,umap10];

const page=document.getElementById("page");
const INK="#222", FRAME="#a8a8a8";
function place(svg,left,top){svg.style.left=left+"px";svg.style.top=top+"px";page.appendChild(svg);}
function axes(xTicks,yTicks,xFmt,yFmt,xLabel,yLabel,dy,dx,xSize,ySize){
  return [
    Plot.axisX({ticks:xTicks,tickFormat:xFmt,tickSize:1.5,tickPadding:0,fontSize:6.4,stroke:INK,fill:INK,label:null}),
    Plot.axisY({ticks:yTicks,tickFormat:yFmt,tickSize:1.5,tickPadding:1,fontSize:6.4,stroke:INK,fill:INK,label:null}),
    Plot.frame({stroke:FRAME,strokeWidth:1.5}),
    Plot.text([xLabel],{frameAnchor:"bottom",dy,fontSize:xSize,fill:INK,lineAnchor:"middle",textAnchor:"middle"}),
    Plot.text([yLabel],{frameAnchor:"left",dx,rotate:-90,fontSize:ySize,fill:INK,lineAnchor:"middle",textAnchor:"middle"})
  ];
}
function traceMarks(list,w,o){
  return list.map(([c,v])=>Plot.line(v,{x:(_,i)=>timeMs[i],y:d=>d,stroke:c,strokeWidth:w,strokeOpacity:o}));
}
const band=(hi,lo,fill,op)=>Plot.areaY(hi,{x:(_,i)=>timeMs[i],y1:d=>d,y2:(_,i)=>lo[i],fill,fillOpacity:op});

place(Plot.plot({width:420,height:146,marginLeft:25,marginRight:14,marginTop:9,marginBottom:29,
  x:{domain:[0,1000]},y:{domain:[-4.14,3.65]},
  marks:[
    band(bandHighA,bandLowA,"#bfc4ad",.4),
    band(coreHighA,coreLowA,"#8e9477",.5),
    ...traceMarks(tracesA,.8,.62),
    Plot.line(meanA,{x:(_,i)=>timeMs[i],y:d=>d,stroke:"#e8261f",strokeWidth:1.05}),
    ...axes(axisTicks,[-4,-3,-2,-1,0,1,2,3],d3.format("d"),d3.format("d"),"Time (ms)","Amplitude",14,-19,12.4,10.3)
  ]}),0,0);

place(Plot.plot({width:420,height:147,marginLeft:25,marginRight:14,marginTop:18,marginBottom:21,
  x:{domain:[0,1000]},y:{domain:[-4.78,5.7]},
  marks:[
    band(bandHighB,bandLowB,"#e6b9a0",.35),
    ...traceMarks(tracesBlue,.75,.55),
    band(coreHighB,coreLowB,"#c65848",.5),
    ...traceMarks(tracesRed,.8,.65),
    Plot.line(spikeValues,{x:(_,i)=>spikeTimes[i],y:d=>d,stroke:"#fdae6b",strokeWidth:.7,strokeOpacity:.75}),
    Plot.line(meanB2,{x:(_,i)=>timeMs[i],y:d=>d,stroke:"#f01414",strokeWidth:1.8}),
    Plot.line(meanB1,{x:(_,i)=>timeMs[i],y:d=>d,stroke:"#1f77b4",strokeWidth:1.2}),
    ...axes(axisTicks,[-4,-2,0,2,4],d3.format("d"),d3.format("d"),"Time (ms)","Amplitude",14,-19,12.4,10.3)
  ]}),0,146);

place(Plot.plot({width:220,height:146,marginLeft:49.5,marginRight:5,marginTop:9,marginBottom:29.5,
  x:{domain:[-.1,.7]},y:{domain:[0,2.8]},
  marks:[
    ...densX.flatMap((xs,k)=>[
      Plot.areaY(densY[k],{x:(_,i)=>xs[i],y:d=>d,fill:colours[k],fillOpacity:.27,curve:"monotone-x"}),
      Plot.lineY(densY[k],{x:(_,i)=>xs[i],y:d=>d,stroke:colours[k],strokeWidth:.7,strokeOpacity:.65,curve:"monotone-x"})
    ]),
    ...axes([-.1,0,.1,.2,.3,.4,.5,.6,.7],[0,.5,1,1.5,2,2.5],d3.format(".1f"),d3.format(".1f"),"Variability","Density",13.5,-17.5,10.2,10)
  ]}),420,0);

place(Plot.plot({width:220,height:147,marginLeft:49,marginRight:3,marginTop:18,marginBottom:20.5,
  x:{domain:[-70,92]},y:{domain:[-61.4,84]},
  marks:[
    ...umapAll.map((pts,k)=>Plot.dot(pts,{x:d=>d[0],y:d=>d[1],r:1.1,fill:colours[k],stroke:"none"})),
    ...axes([-60,-40,-20,0,20,40,60,80],[-60,-40,-20,0,20,40,60,80],d3.format("d"),d3.format("d"),"UMAP 1","UMAP 2",13.5,-20,10,10)
  ]}),420,146);

function tag(t,l,c){const e=document.createElement("div");e.className="tag";e.textContent=t;e.style.left=l+"px";e.style.top=c-8+"px";page.appendChild(e);}
tag("(a)",0,8);tag("(b)",0,162);tag("(c)",440,8);tag("(d)",440,162);

function legend(box,build){const e=document.createElement("div");e.className="legend";
  Object.assign(e.style,{left:box[0]+"px",top:box[1]+"px",width:box[2]+"px",height:box[3]+"px"});build(e);page.appendChild(e);}
function addText(e,t,l,cy,anchorMid){const d=document.createElement("div");d.className="t";d.textContent=t;d.style.left=l+"px";d.style.top=cy-3.5+"px";if(anchorMid)d.style.transform="translateX(-50%)";e.appendChild(d);}
function addSwatch(e,css){const d=document.createElement("div");d.className="s";Object.assign(d.style,css);e.appendChild(d);}

legend([27,168,52,20],e=>{
  addSwatch(e,{left:"1px",top:"3.3px",width:"17px",height:"3px",background:"#1f77b4"});
  addSwatch(e,{left:"1px",top:"12.5px",width:"17px",height:"3px",background:"#f01414"});
  addText(e,"Stimuli 1",21,4.8);addText(e,"Stimuli 2",21,14);
});
legend([590,12,43.5,97.5],e=>{
  addText(e,"Subjects",21,5,true);
  subjects.forEach((s,k)=>{
    addSwatch(e,{left:"2.5px",top:(11+k*8.7)+"px",width:"11.5px",height:"4.2px",background:colours[k]+"44",border:"0.7px solid "+colours[k]+"aa",boxSizing:"border-box"});
    addText(e,s,19,13.2+k*8.7);
  });
});
legend([592,167,41,97],e=>{
  addText(e,"Subjects",20,5,true);
  subjects.forEach((s,k)=>{
    addSwatch(e,{left:"6.2px",top:(12+k*8.67)+"px",width:"4.4px",height:"4.4px",borderRadius:"50%",background:colours[k]});
    addText(e,s,19,14.2+k*8.67);
  });
});
</script></body></html>
